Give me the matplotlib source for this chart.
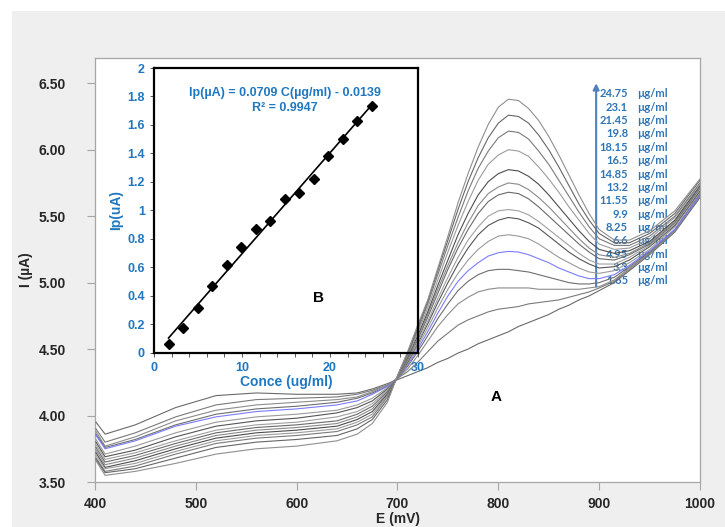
import numpy as np
import matplotlib
matplotlib.use("Agg")
import matplotlib.pyplot as plt
from matplotlib.patches import Rectangle

plt.rcParams['font.family'] = ['Liberation Sans', 'DejaVu Sans']

# ---- main voltammograms (A) ----
E_left = [401, 410, 440, 480, 520, 560, 600, 640, 660, 675, 690, 700]
E_right = [710, 720, 730, 740, 750, 760, 770, 780, 790, 800, 810, 820, 830, 840,
           850, 860, 870, 880, 890, 900, 915, 930, 950, 975, 1000]

# current (uA) on the left part, one row per curve (lowest peak first)
i_left = [
    [3.95, 3.86, 3.93, 4.06, 4.15, 4.17, 4.16, 4.16, 4.17, 4.20, 4.24, 4.27],
    [3.90, 3.80, 3.87, 3.99, 4.08, 4.12, 4.13, 4.14, 4.16, 4.19, 4.23, 4.28],
    [3.88, 3.77, 3.84, 3.96, 4.04, 4.08, 4.10, 4.12, 4.14, 4.18, 4.23, 4.28],
    [3.86, 3.76, 3.82, 3.93, 4.01, 4.05, 4.07, 4.10, 4.13, 4.17, 4.22, 4.28],
    [3.85, 3.75, 3.81, 3.92, 3.99, 4.03, 4.05, 4.08, 4.11, 4.16, 4.22, 4.28],
    [3.82, 3.71, 3.77, 3.87, 3.95, 3.99, 4.01, 4.04, 4.08, 4.13, 4.21, 4.28],
    [3.80, 3.69, 3.74, 3.84, 3.92, 3.96, 3.98, 4.02, 4.06, 4.11, 4.20, 4.28],
    [3.78, 3.67, 3.72, 3.81, 3.89, 3.93, 3.95, 3.99, 4.03, 4.09, 4.19, 4.28],
    [3.76, 3.65, 3.70, 3.79, 3.87, 3.91, 3.93, 3.96, 4.01, 4.07, 4.18, 4.28],
    [3.74, 3.63, 3.68, 3.77, 3.85, 3.89, 3.91, 3.94, 3.99, 4.05, 4.17, 4.28],
    [3.72, 3.61, 3.66, 3.75, 3.83, 3.87, 3.89, 3.92, 3.97, 4.03, 4.16, 4.29],
    [3.70, 3.60, 3.64, 3.73, 3.81, 3.85, 3.87, 3.90, 3.95, 4.01, 4.15, 4.29],
    [3.68, 3.58, 3.62, 3.71, 3.79, 3.83, 3.85, 3.88, 3.93, 3.99, 4.14, 4.29],
    [3.67, 3.57, 3.60, 3.68, 3.76, 3.80, 3.82, 3.85, 3.90, 3.97, 4.12, 4.30],
    [3.66, 3.55, 3.58, 3.64, 3.71, 3.75, 3.77, 3.81, 3.86, 3.94, 4.10, 4.30],
]

# current (uA) on the peak side, same curve order
i_right = [
    [4.30, 4.33, 4.36, 4.40, 4.43, 4.47, 4.50, 4.54, 4.57, 4.60, 4.63, 4.67, 4.70,
     4.73, 4.76, 4.80, 4.83, 4.87, 4.90, 4.94, 5.00, 5.09, 5.21, 5.38, 5.64],
    [4.33, 4.40, 4.48, 4.56, 4.62, 4.68, 4.72, 4.75, 4.78, 4.80, 4.81, 4.82, 4.84,
     4.85, 4.86, 4.87, 4.89, 4.91, 4.93, 4.96, 5.01, 5.10, 5.22, 5.39, 5.65],
    [4.35, 4.45, 4.56, 4.67, 4.76, 4.84, 4.89, 4.93, 4.95, 4.96, 4.96, 4.96, 4.96,
     4.95, 4.95, 4.95, 4.95, 4.95, 4.96, 4.97, 5.02, 5.11, 5.22, 5.39, 5.66],
    [4.37, 4.48, 4.60, 4.73, 4.84, 4.94, 5.01, 5.06, 5.09, 5.10, 5.10, 5.09, 5.08,
     5.06, 5.04, 5.02, 5.00, 4.99, 4.99, 5.00, 5.04, 5.12, 5.23, 5.40, 5.67],
    [4.38, 4.50, 4.63, 4.77, 4.90, 5.01, 5.09, 5.15, 5.20, 5.225, 5.235, 5.23, 5.21,
     5.18, 5.15, 5.11, 5.08, 5.05, 5.03, 5.03, 5.06, 5.13, 5.24, 5.40, 5.66],
    [4.39, 4.52, 4.66, 4.81, 4.95, 5.07, 5.17, 5.25, 5.31, 5.35, 5.36, 5.35, 5.33,
     5.29, 5.24, 5.19, 5.15, 5.11, 5.08, 5.07, 5.09, 5.15, 5.25, 5.42, 5.68],
    [4.40, 4.54, 4.69, 4.85, 5.00, 5.14, 5.26, 5.36, 5.43, 5.47, 5.49, 5.48, 5.45,
     5.41, 5.35, 5.29, 5.23, 5.18, 5.14, 5.11, 5.12, 5.17, 5.27, 5.43, 5.69],
    [4.41, 4.55, 4.71, 4.88, 5.04, 5.19, 5.32, 5.42, 5.50, 5.54, 5.55, 5.54, 5.51,
     5.46, 5.40, 5.34, 5.28, 5.22, 5.17, 5.14, 5.14, 5.19, 5.28, 5.44, 5.70],
    [4.42, 4.57, 4.74, 4.92, 5.10, 5.26, 5.40, 5.52, 5.61, 5.66, 5.68, 5.67, 5.63,
     5.57, 5.50, 5.43, 5.36, 5.29, 5.23, 5.18, 5.17, 5.21, 5.29, 5.45, 5.71],
    [4.43, 4.58, 4.76, 4.95, 5.13, 5.30, 5.45, 5.58, 5.67, 5.72, 5.75, 5.74, 5.70,
     5.64, 5.57, 5.49, 5.41, 5.33, 5.26, 5.21, 5.19, 5.22, 5.30, 5.46, 5.72],
    [4.44, 4.60, 4.78, 4.98, 5.17, 5.36, 5.52, 5.66, 5.76, 5.82, 5.85, 5.84, 5.80,
     5.74, 5.66, 5.57, 5.48, 5.39, 5.31, 5.25, 5.22, 5.24, 5.31, 5.47, 5.73],
    [4.45, 4.62, 4.81, 5.02, 5.23, 5.43, 5.61, 5.77, 5.89, 5.96, 6.00, 5.99, 5.95,
     5.87, 5.78, 5.68, 5.57, 5.47, 5.37, 5.29, 5.25, 5.26, 5.33, 5.49, 5.74],
    [4.46, 4.64, 4.84, 5.06, 5.28, 5.49, 5.69, 5.86, 5.99, 6.09, 6.14, 6.13, 6.08,
     5.99, 5.89, 5.77, 5.65, 5.53, 5.42, 5.33, 5.28, 5.28, 5.35, 5.50, 5.75],
    [4.47, 4.66, 4.86, 5.09, 5.32, 5.55, 5.76, 5.94, 6.09, 6.20, 6.26, 6.25, 6.20,
     6.11, 6.00, 5.87, 5.73, 5.59, 5.47, 5.37, 5.30, 5.30, 5.37, 5.52, 5.77],
    [4.48, 4.68, 4.87, 5.11, 5.35, 5.60, 5.82, 6.02, 6.19, 6.32, 6.38, 6.37, 6.31,
     6.22, 6.10, 5.96, 5.81, 5.66, 5.52, 5.40, 5.32, 5.32, 5.39, 5.54, 5.78],
]

line_colors = ['#6a6a6a', '#7a7a7a', '#8c8c8c', '#6e6e6e', '#7b7bff',
               '#9a9a9a', '#555555', '#a0a0a0', '#6a6a6a', '#8a8a8a',
               '#4d4d4d', '#9c9c9c', '#7a7a7a', '#666666', '#8f8f8f']

conc_labels = ['24.75', '23.1', '21.45', '19.8', '18.15', '16.5', '14.85', '13.2',
               '11.55', '9.9', '8.25', '6.6', '4.95', '3.3', '1.65']

# ---- calibration inset (B) ----
conc = [1.65, 3.3, 4.95, 6.6, 8.25, 9.9, 11.55, 13.2, 14.85, 16.5, 18.15, 19.8, 21.45, 23.1, 24.75]
ip = [0.058, 0.171, 0.311, 0.470, 0.615, 0.742, 0.870, 0.924, 1.078, 1.120,
      1.219, 1.382, 1.499, 1.630, 1.731]
slope = 0.0709
intercept = -0.0139

blue = '#1f78c1'
lab_blue = '#2e75b6'

fig = plt.figure(figsize=(7.25, 5.27), dpi=100)
fig.patch.set_facecolor('white')
fig.patches.append(Rectangle((12/725, 0), 1, (527-11)/527, transform=fig.transFigure,
                             facecolor='#efefef', edgecolor='none', zorder=-10))

ax = fig.add_axes([95/725, (527-482)/527, 605/725, 424/527])
ax.set_facecolor('white')
for k in range(len(i_left)):
    ax.plot(E_left + E_right, i_left[k] + i_right[k], color=line_colors[k], lw=0.8, zorder=3)

ax.set_xlim(400, 1000)
ax.set_ylim(3.5, 6.69)
ax.set_xticks(np.arange(400, 1001, 100))
ax.set_yticks(np.arange(3.5, 6.51, 0.5))
ax.yaxis.set_major_formatter(matplotlib.ticker.FormatStrFormatter('%.2f'))
ax.tick_params(axis='both', colors='#a6a6a6', labelcolor='#262626', labelsize=10,
               length=6, width=0.8, pad=5)
ax.tick_params(axis='y', pad=15)
for t in ax.get_xticklabels() + ax.get_yticklabels():
    t.set_fontweight('bold')
for s in ax.spines.values():
    s.set_color('#a6a6a6')
    s.set_linewidth(0.9)
ax.set_xlabel('E (mV)', fontsize=10, fontweight='bold', color='#262626')
ax.set_ylabel('I (µA)', fontsize=10, fontweight='bold', color='#262626')
ax.xaxis.set_label_coords(0.5, -(512-482)/424)
ax.yaxis.set_label_coords(-(95-33)/605, 0.5)

ax.text(798, 4.14, 'A', fontsize=11, fontweight='bold', ha='center', va='center')

# arrow and concentration labels
ax.annotate('', xy=(897, 6.50), xytext=(897, 4.97),
            arrowprops=dict(arrowstyle='-|>', color='#4f81bd', lw=1.5,
                            mutation_scale=9, shrinkA=0, shrinkB=0), zorder=2)
for j, lab in enumerate(conc_labels):
    y = 6.42 - j * 0.1005
    ax.text(928.6, y, lab, ha='right', va='center', fontsize=8, color=lab_blue,
            family='Lato', fontweight='bold', zorder=1)
    ax.text(937.5, y, 'µg/ml', ha='left', va='center', fontsize=8, color=lab_blue,
            family='Lato', fontweight='bold', zorder=1)

# inset
ins = fig.add_axes([154/725, (527-352.7)/527, 264/725, 284.7/527])
ins.set_facecolor('none')
ins.plot(conc, ip, 'D', color='black', ms=5, zorder=4)
fit_x = np.array([conc[0], conc[-1]])
ins.plot(fit_x, slope * fit_x + intercept, color='black', lw=1.2, zorder=3)
ins.set_xlim(0, 30)
ins.set_ylim(0, 2)
ins.set_xticks([0, 10, 20, 30])
ins.set_xticks(np.arange(0, 31, 2), minor=True)
ins.set_yticks(np.arange(0, 2.01, 0.2))
ins.set_yticklabels(['0', '0.2', '0.4', '0.6', '0.8', '1', '1.2', '1.4', '1.6', '1.8', '2'])
ins.tick_params(axis='both', which='both', colors='#595959', labelcolor=blue,
                labelsize=9, length=3, width=0.7)
for t in ins.get_xticklabels() + ins.get_yticklabels():
    t.set_fontweight('bold')
for s in ins.spines.values():
    s.set_color('black')
    s.set_linewidth(1.6)
ins.set_xlabel('Conce (ug/ml)', fontsize=10, fontweight='bold', color=blue, labelpad=1)
ins.set_ylabel('Ip(uA)', fontsize=10, fontweight='bold', color=blue, labelpad=3)
ins.text(14.9, 1.822, 'Ip(µA) = 0.0709 C(µg/ml) - 0.0139', ha='center', va='center',
         fontsize=9, fontweight='bold', color=blue)
ins.text(14.9, 1.717, 'R² = 0.9947', ha='center', va='center',
         fontsize=9, fontweight='bold', color=blue)
ins.text(18.75, 0.384, 'B', fontsize=11, fontweight='bold', ha='center', va='center')

fig.savefig('out.png', dpi=100)
